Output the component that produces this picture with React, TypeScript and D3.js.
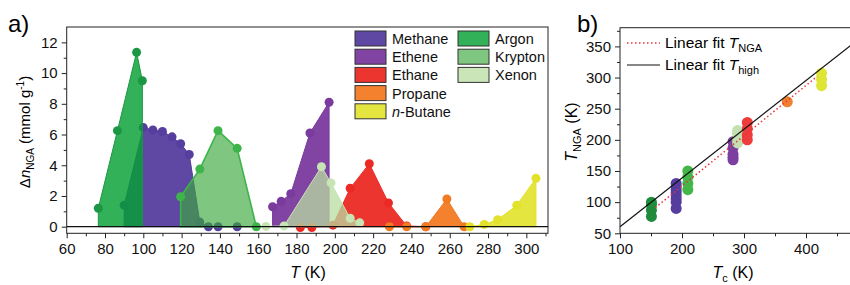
import React, { useEffect, useRef } from "react";
import * as d3 from "d3";

// panel a: temperature (K) and uptake (mmol/g) for each gas
const methaneT = [90, 100, 105, 110, 115, 119.5, 124, 129.5, 134, 139, 149];
const methaneN = [1.4, 6.45, 6.3, 6.2, 5.85, 5.4, 4.7, 0.3, 0, 0, 0];
const etheneT = [167.5, 172, 177, 187, 197];
const etheneN = [1.3, 1.65, 2.15, 6.1, 8.1];
const ethaneT = [182, 188, 199, 208, 218, 228, 237.5, 247.5];
const ethaneN = [-0.05, -0.05, 0.1, 2.5, 4.1, 1.55, 0.05, 0];
const propaneT = [228.5, 237.5, 247.5, 258.5, 267.5];
const propaneN = [0, 0, 0, 1.8, 0];
const butaneT = [270.5, 278, 285, 295, 305];
const butaneN = [0, 0.15, 0.45, 1.4, 3.15];
const argonT = [76.5, 86.5, 96.5, 99.5];
const argonN = [1.2, 6.25, 11.35, 9.5];
const kryptonT = [119.5, 129.5, 139, 149, 159];
const kryptonN = [1.95, 3.75, 6.25, 5.1, 0];
const xenonT = [164, 173.5, 193, 198, 208, 213];
const xenonN = [0.02, 0.05, 3.9, 2.85, 0.55, 0.25];

// panel b: critical temperature vs T_NGA
const tcGases = ["Argon", "Methane", "Krypton", "Ethene", "Xenon", "Ethane", "Propane", "n-Butane"];
const tcValues = [150.7, 190.6, 209.4, 282.3, 289.7, 305.3, 369.8, 425.1];
const tngaValues = [
  [77, 87, 96, 100],
  [90, 100, 105, 110, 115, 120, 125, 130],
  [120, 130, 140, 150],
  [168, 172, 177, 187, 197],
  [195, 200, 210, 215],
  [200, 208, 218, 228],
  [261],
  [287, 297, 307],
];
const tcColors = ["#1f8b3d", "#553d9f", "#44b649", "#7c3fa0", "#c3e0b0", "#ee3b3b", "#f08030", "#dfe535"];
const fitNgaTc = [157, 418];
const fitHighTc = [100, 475];

const xTicksA = d3.range(60, 301, 20);
const yTicksA = d3.range(0, 13, 2);
const xTicksB = [100, 200, 300, 400];
const yTicksB = d3.range(50, 351, 50);

const FONT = "Liberation Sans, Arial, sans-serif";

const App: React.FC = () => {
  const svgRef = useRef<SVGSVGElement>(null);

  useEffect(() => {
    if (!svgRef.current) return;
    const svg = d3.select(svgRef.current);
    svg.selectAll("*").remove();
    svg.attr("font-family", FONT);

    // ---------- panel a ----------
    const x = d3.scaleLinear().domain([60, 311.3]).range([66.7, 548]);
    const y = d3.scaleLinear().domain([-0.43, 13]).range([233.3, 27]);

    const series = [
      { name: "Methane", t: methaneT, n: methaneN, fill: "#553e9e", op: 0.95, mark: "#553e9e", stroke: "#553e9e" },
      { name: "Ethene", t: etheneT, n: etheneN, fill: "#7a3a9e", op: 0.95, mark: "#7a3a9e", stroke: "#7a3a9e" },
      { name: "Ethane", t: ethaneT, n: ethaneN, fill: "#ec2a25", op: 0.95, mark: "#ec2a25", stroke: "#ec2a25" },
      { name: "Propane", t: propaneT, n: propaneN, fill: "#f27a22", op: 0.95, mark: "#f27a22", stroke: "#f27a22" },
      { name: "n-Butane", t: butaneT, n: butaneN, fill: "#e2e22a", op: 0.9, mark: "#e2e22a", stroke: "#e2e22a" },
      { name: "Argon", t: argonT, n: argonN, fill: "#05a035", op: 0.82, mark: "#1b9743", stroke: "#1b9743" },
      { name: "Krypton", t: kryptonT, n: kryptonN, fill: "#3aa83c", op: 0.65, mark: "#3db54a", stroke: "#3db54a" },
      { name: "Xenon", t: xenonT, n: xenonN, fill: "#b8dca0", op: 0.75, mark: "#c8e4b4", stroke: "#c8e4b4" },
    ];

    const area = d3
      .area<[number, number]>()
      .x((d) => x(d[0]))
      .y0(y(0))
      .y1((d) => y(d[1]));

    const ga = svg.append("g");
    series.forEach((s) => {
      const pts: [number, number][] = s.t.map((t, i) => [t, s.n[i]]);
      ga.append("path")
        .attr("d", area(pts))
        .attr("fill", s.fill)
        .attr("fill-opacity", s.op)
        .attr("stroke", s.stroke)
        .attr("stroke-width", s.name === "Krypton" ? 1.6 : 1);
      ga.selectAll(null)
        .data(pts)
        .enter()
        .append("circle")
        .attr("cx", (d) => x(d[0]))
        .attr("cy", (d) => y(d[1]))
        .attr("r", 4.5)
        .attr("fill", s.mark);
    });

    // zero line
    ga.append("line")
      .attr("x1", x.range()[0])
      .attr("x2", x.range()[1])
      .attr("y1", y(0))
      .attr("y2", y(0))
      .attr("stroke", "#111")
      .attr("stroke-width", 1.3);

    // frame
    ga.append("rect")
      .attr("x", 66.7)
      .attr("y", 27)
      .attr("width", 548 - 66.7)
      .attr("height", 233.3 - 27)
      .attr("fill", "none")
      .attr("stroke", "#222")
      .attr("stroke-width", 1);

    // axes
    const xAxA = ga.append("g").attr("transform", "translate(0,233.3)");
    xAxA
      .call(d3.axisBottom(x).tickValues(xTicksA).tickSize(5).tickSizeOuter(0).tickPadding(5))
      .call((g) => g.select(".domain").remove());
    xAxA
      .append("g")
      .call(d3.axisBottom(x).tickValues(d3.range(70, 311, 20)).tickSize(3).tickFormat(() => ""))
      .call((g) => g.select(".domain").remove());

    const yAxA = ga.append("g").attr("transform", "translate(66.7,0)");
    yAxA
      .call(d3.axisLeft(y).tickValues(yTicksA).tickSize(5).tickSizeOuter(0).tickPadding(4))
      .call((g) => g.select(".domain").remove());
    yAxA
      .append("g")
      .call(d3.axisLeft(y).tickValues(d3.range(1, 13, 2)).tickSize(3).tickFormat(() => ""))
      .call((g) => g.select(".domain").remove());

    // legend a
    const legA = ga.append("g").attr("font-size", 14.5);
    series.forEach((s, i) => {
      const col = i < 5 ? 0 : 1;
      const row = i < 5 ? i : i - 5;
      const sx = col === 0 ? 355 : 458;
      const sy = 31 + row * 18.2;
      legA
        .append("rect")
        .attr("x", sx)
        .attr("y", sy)
        .attr("width", 31)
        .attr("height", 15)
        .attr("fill", s.fill)
        .attr("fill-opacity", s.op)
        .attr("stroke", "#333")
        .attr("stroke-width", 1);
      const tx = legA
        .append("text")
        .attr("x", sx + 37)
        .attr("y", sy + 13)
        .attr("fill", "#111");
      if (s.name === "n-Butane") {
        tx.append("tspan").attr("font-style", "italic").text("n");
        tx.append("tspan").text("-Butane");
      } else tx.text(s.name);
    });

    // titles a
    svg.append("text").attr("x", 8).attr("y", 32).attr("font-size", 24).text("a)");
    const xtA = svg
      .append("text")
      .attr("x", 308)
      .attr("y", 278)
      .attr("text-anchor", "middle")
      .attr("font-size", 16);
    xtA.append("tspan").attr("font-style", "italic").text("T");
    xtA.append("tspan").text(" (K)");

    const ytA = svg
      .append("text")
      .attr("transform", "translate(30,132) rotate(-90)")
      .attr("text-anchor", "middle")
      .attr("font-size", 15);
    ytA.append("tspan").text("Δ");
    ytA.append("tspan").attr("font-style", "italic").text("n");
    ytA.append("tspan").attr("font-size", 10).attr("dy", 4).text("NGA");
    ytA.append("tspan").attr("dy", -4).text(" (mmol g");
    ytA.append("tspan").attr("font-size", 10).attr("dy", -6).text("-1");
    ytA.append("tspan").attr("dy", 6).text(")");

    // ---------- panel b ----------
    const xb = d3.scaleLinear().domain([100, 475]).range([620, 852.5]);
    const yb = d3.scaleLinear().domain([50, 380]).range([233.3, 27.7]);
    const gb = svg.append("g");

    tcGases.forEach((g, i) => {
      gb.selectAll(null)
        .data(tngaValues[i])
        .enter()
        .append("circle")
        .attr("cx", xb(tcValues[i]))
        .attr("cy", (d) => yb(d))
        .attr("r", 5.5)
        .attr("fill", tcColors[i]);
    });

    const lineB = d3
      .line<number>()
      .x((d) => xb(d))
      .y((d) => yb(60.6 + 0.782 * (d - 100)));
    gb.append("path")
      .attr("d", lineB(fitHighTc))
      .attr("stroke", "#111")
      .attr("stroke-width", 1.2)
      .attr("fill", "none");
    const lineNga = d3
      .line<number>()
      .x((d) => xb(d))
      .y((d) => yb(0.807 * d - 35.5));
    gb.append("path")
      .attr("d", lineNga(fitNgaTc))
      .attr("stroke", "#e8343a")
      .attr("stroke-width", 1.5)
      .attr("stroke-dasharray", "1.5,2.5")
      .attr("fill", "none");

    gb.append("rect")
      .attr("x", 620)
      .attr("y", 27.7)
      .attr("width", 240)
      .attr("height", 233.3 - 27.7)
      .attr("fill", "none")
      .attr("stroke", "#222")
      .attr("stroke-width", 1);

    const xAxB = gb.append("g").attr("transform", "translate(0,233.3)");
    xAxB
      .call(d3.axisBottom(xb).tickValues(xTicksB).tickSize(5).tickSizeOuter(0).tickPadding(5))
      .call((g) => g.select(".domain").remove());
    xAxB
      .append("g")
      .call(d3.axisBottom(xb).tickValues([150, 250, 350, 450]).tickSize(3).tickFormat(() => ""))
      .call((g) => g.select(".domain").remove());
    const yAxB = gb.append("g").attr("transform", "translate(620,0)");
    yAxB
      .call(d3.axisLeft(yb).tickValues(yTicksB).tickSize(5).tickSizeOuter(0).tickPadding(4))
      .call((g) => g.select(".domain").remove());
    yAxB
      .append("g")
      .call(d3.axisLeft(yb).tickValues(d3.range(75, 380, 50)).tickSize(3).tickFormat(() => ""))
      .call((g) => g.select(".domain").remove());

    svg.selectAll(".tick text").attr("font-size", 15).attr("font-family", FONT).attr("fill", "#111");
    svg.selectAll(".tick line").attr("stroke", "#222");

    // legend b
    const legB = gb.append("g").attr("font-size", 15.5);
    legB.append("line")
      .attr("x1", 627).attr("x2", 660).attr("y1", 43).attr("y2", 43)
      .attr("stroke", "#e8343a").attr("stroke-width", 1.5).attr("stroke-dasharray", "1.5,2.5");
    legB.append("line")
      .attr("x1", 627).attr("x2", 660).attr("y1", 65).attr("y2", 65)
      .attr("stroke", "#111").attr("stroke-width", 1.2);
    const l1 = legB.append("text").attr("x", 665).attr("y", 48);
    l1.append("tspan").text("Linear fit ");
    l1.append("tspan").attr("font-style", "italic").text("T");
    l1.append("tspan").attr("font-size", 11).attr("dy", 4).text("NGA");
    const l2 = legB.append("text").attr("x", 665).attr("y", 70);
    l2.append("tspan").text("Linear fit ");
    l2.append("tspan").attr("font-style", "italic").text("T");
    l2.append("tspan").attr("font-size", 11).attr("dy", 4).text("high");

    svg.append("text").attr("x", 577).attr("y", 32).attr("font-size", 24).text("b)");
    const xtB = svg
      .append("text")
      .attr("x", 733)
      .attr("y", 278)
      .attr("text-anchor", "middle")
      .attr("font-size", 16);
    xtB.append("tspan").attr("font-style", "italic").text("T");
    xtB.append("tspan").attr("font-size", 11).attr("dy", 4).text("c");
    xtB.append("tspan").attr("dy", -4).text(" (K)");
    const ytB = svg
      .append("text")
      .attr("transform", "translate(577,132) rotate(-90)")
      .attr("text-anchor", "middle")
      .attr("font-size", 16);
    ytB.append("tspan").attr("font-style", "italic").text("T");
    ytB.append("tspan").attr("font-size", 11).attr("dy", 4).text("NGA");
    ytB.append("tspan").attr("dy", -4).text(" (K)");
  }, []);

  return (
    <svg
      ref={svgRef}
      width={850}
      height={285}
      style={{ position: "absolute", left: 0, top: 0, background: "#fff" }}
    />
  );
};

export default App;
